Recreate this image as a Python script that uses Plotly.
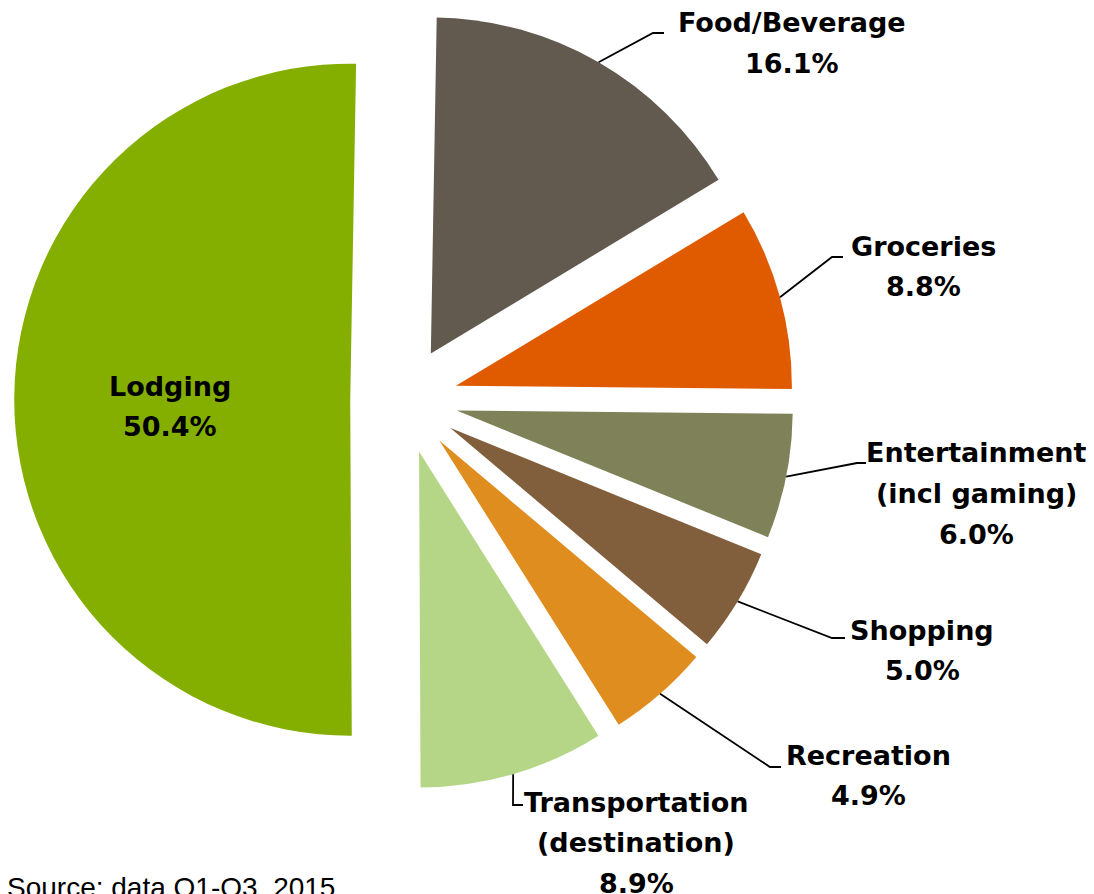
import math
import plotly.graph_objects as go

# ---- data ----
categories = ["Food/Beverage", "Groceries", "Entertainment (incl gaming)", "Shopping",
              "Recreation", "Transportation (destination)", "Lodging"]
shares = [16.1, 8.8, 6.0, 5.0, 4.9, 8.9, 50.4]
label_lines = [["Food/Beverage"], ["Groceries"], ["Entertainment", "(incl gaming)"],
               ["Shopping"], ["Recreation"], ["Transportation", "(destination)"], ["Lodging"]]
colors = ["#625A4F", "#E05B00", "#7F8159", "#825F3C", "#E08D1F", "#B5D687", "#84AF00"]
source_note = "Source: data Q1-Q3, 2015"

# ---- layout constants (pixels, in window coordinates) ----
OFF = 8                    # page body margin offset
W, H = 1094 - OFF, 894 - OFF
CX, CY = 404.0, 400.0      # pie centre
R = 336.0                  # pie radius
PULL = 0.16
ROT = 1.0                  # degrees, first slice start (clockwise from 12 o'clock)


def px(x):
    return (x - OFF) / W


def py(y):
    return 1 - (y - OFF) / H


half = R * (1 + PULL)
dom_x = [px(CX - half), px(CX + half)]
dom_y = [py(CY + half), py(CY - half)]

fig = go.Figure(go.Pie(
    labels=categories, values=shares, sort=False, direction="clockwise",
    rotation=ROT, pull=[PULL] * len(shares),
    marker=dict(colors=colors, line=dict(width=0)),
    textinfo="none", hoverinfo="label+percent", showlegend=False,
    domain=dict(x=dom_x, y=dom_y),
))

# label placement: (centre x, first-line centre y, elbow x, elbow y, end x)
placements = [
    (792, 23, 653, 33, 664),
    (923, 246, 832, 257, 843),
    (976, 453, 857, 463, 866),
    (922, 630, 832, 638, 845),
    (868, 755, 770, 767, 781),
    (636, 802, 513, 805, 523),
    (170, 386, None, None, None),
]
LINE_STEP = 40.5
FONT = dict(family="DejaVu Sans", size=27, color="black", weight="bold")

total = sum(shares)
cum = 0.0
annotations = []
shapes = []
for i, v in enumerate(shares):
    mid = math.radians(ROT + (cum + v / 2) / total * 360.0)
    cum += v
    dx, dy = math.sin(mid), -math.cos(mid)
    lx, ly0, ex, ey, endx = placements[i]
    lines = label_lines[i] + [f"{v:.1f}%"]
    for k, t in enumerate(lines):
        annotations.append(dict(
            x=px(lx), y=py(ly0 + k * LINE_STEP), xref="paper", yref="paper",
            text=t, showarrow=False, xanchor="center", yanchor="middle", font=FONT))
    if ex is not None:
        ax = CX + (1 + PULL) * R * dx
        ay = CY + (1 + PULL) * R * dy
        path = f"M {px(ax)},{py(ay)} L {px(ex)},{py(ey)} L {px(endx)},{py(ey)}"
        shapes.append(dict(type="path", path=path, xref="paper", yref="paper",
                           line=dict(color="black", width=1.8)))

annotations.append(dict(
    x=px(5), y=py(870), xref="paper", yref="paper", text=source_note, showarrow=False,
    xanchor="left", yanchor="top",
    font=dict(family="Liberation Sans, Arial", size=28, color="black")))

fig.update_layout(
    width=W, height=H, margin=dict(l=0, r=0, t=0, b=0),
    paper_bgcolor="white", plot_bgcolor="white",
    annotations=annotations, shapes=shapes,
)

fig.write_html("out.html")
